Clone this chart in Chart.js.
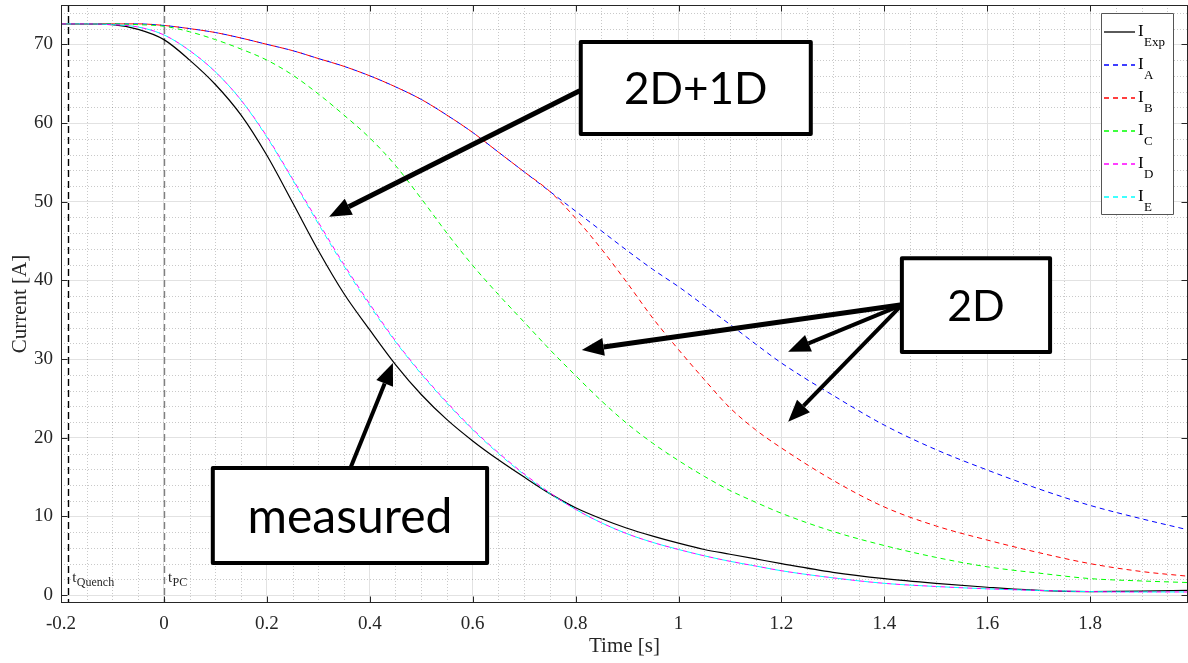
<!DOCTYPE html>
<html>
<head>
<meta charset="utf-8">
<script src="https://cdn.jsdelivr.net/npm/chart.js@4.4.1/dist/chart.umd.min.js"></script>
<style>
  html, body { margin: 0; padding: 0; background: #fff; overflow: hidden; }
</style>
</head>
<body>
<canvas id="currentChart" width="1188" height="663"></canvas>
<script>
// time axis shared by every trace [s]
const times = [-0.2, -0.15, -0.1, -0.05, 0, 0.05, 0.1, 0.15, 0.2, 0.25, 0.3, 0.35, 0.4, 0.45, 0.5, 0.55,
  0.6, 0.65, 0.7, 0.75, 0.8, 0.85, 0.9, 0.95, 1.0, 1.05, 1.1, 1.15, 1.2, 1.3, 1.4, 1.5, 1.6, 1.7, 1.8, 1.9, 1.99];

// currents [A]
const iExp = [72.6, 72.6, 72.5, 71.9, 70.6, 68.0, 64.9, 61.0, 55.9, 49.9, 43.8, 38.3, 33.7, 29.3, 25.5, 22.3,
  19.6, 17.2, 15.0, 12.9, 11.1, 9.7, 8.5, 7.5, 6.6, 5.8, 5.2, 4.6, 4.0, 2.9, 2.1, 1.5, 1.0, 0.6, 0.45, 0.5, 0.6];
const iA = [72.6, 72.6, 72.6, 72.6, 72.4, 72.0, 71.5, 70.8, 70.0, 69.2, 68.2, 67.2, 66.0, 64.6, 63.0, 61.0,
  58.8, 56.3, 53.8, 51.3, 48.8, 46.3, 43.8, 41.4, 39.2, 36.8, 34.4, 31.9, 29.5, 25.4, 21.6, 18.5, 15.9, 13.5, 11.4, 9.7, 8.3];
const iB = [72.6, 72.6, 72.6, 72.6, 72.4, 72.0, 71.5, 70.8, 70.0, 69.2, 68.2, 67.2, 66.0, 64.6, 63.0, 61.0,
  58.8, 56.3, 53.8, 51.3, 47.9, 44.0, 39.7, 35.2, 31.2, 27.4, 23.8, 21.0, 18.7, 14.6, 11.2, 8.8, 7.0, 5.4, 4.0, 3.0, 2.4];
const iC = [72.6, 72.6, 72.6, 72.5, 72.3, 71.6, 70.6, 69.4, 68.0, 66.1, 63.7, 61.0, 58.1, 54.6, 50.4, 46.0,
  41.9, 38.2, 34.7, 31.2, 27.9, 24.7, 21.8, 19.3, 17.1, 15.1, 13.3, 11.8, 10.4, 8.1, 6.3, 4.8, 3.6, 2.8, 2.1, 1.8, 1.6];
const iD = [72.6, 72.6, 72.5, 72.2, 71.2, 69.2, 66.5, 62.9, 58.3, 52.9, 47.4, 42.0, 37.0, 32.3, 28.2, 24.5,
  21.1, 18.1, 15.4, 13.0, 10.9, 9.2, 7.8, 6.7, 5.8, 5.0, 4.3, 3.7, 3.1, 2.2, 1.5, 1.1, 0.8, 0.6, 0.45, 0.4, 0.4];
const iE = [72.6, 72.6, 72.5, 72.2, 71.2, 69.2, 66.5, 62.9, 58.2, 52.8, 47.2, 41.8, 36.8, 32.2, 28.1, 24.4,
  21.0, 18.0, 15.3, 12.9, 10.9, 9.2, 7.8, 6.7, 5.8, 5.0, 4.3, 3.7, 3.1, 2.2, 1.5, 1.1, 0.8, 0.6, 0.45, 0.4, 0.4];

const xTicks = [-0.2, 0, 0.2, 0.4, 0.6, 0.8, 1, 1.2, 1.4, 1.6, 1.8];
const yTicks = [0, 10, 20, 30, 40, 50, 60, 70];

// event markers (quench detection, power converter switch-off)
const markerTimes = [-0.186, 0];
const markerNames = ['Quench', 'PC'];
const markerColors = ['#000000', '#808080'];

// text callouts and their arrows, in data coordinates
const callouts = [
  { text: '2D+1D', x0: 0.810, x1: 1.257, y0: 70.3, y1: 58.6, size: 44 },
  { text: '2D', x0: 1.434, x1: 1.722, y0: 42.8, y1: 30.9, size: 43 },
  { text: 'measured', x0: 0.095, x1: 0.628, y0: 16.15, y1: 4.08, size: 48 }
];
const arrows = [
  { from: [0.808, 64.1], to: [0.321, 48.1], w: 5 },
  { from: [1.434, 36.9], to: [0.812, 31.15], w: 5 },
  { from: [1.434, 36.9], to: [1.213, 30.94], w: 4 },
  { from: [1.434, 36.9], to: [1.213, 22.04], w: 4 },
  { from: [0.362, 16.1], to: [0.445, 29.5], w: 4 }
];

const legendItems = [
  { sub: 'Exp', color: '#000000', dash: [] },
  { sub: 'A', color: '#0000ff', dash: [5, 4] },
  { sub: 'B', color: '#ff0000', dash: [5, 4] },
  { sub: 'C', color: '#00ff00', dash: [5, 4] },
  { sub: 'D', color: '#ff00ff', dash: [5, 4] },
  { sub: 'E', color: '#00ffff', dash: [5, 4] }
];

const serif = "'Liberation Serif', 'Times New Roman', serif";
const axisColor = '#262626';

function trace(label, values, color, dash, offset, order) {
  return {
    label,
    data: times.map((t, i) => ({ x: t, y: values[i] })),
    borderColor: color,
    borderWidth: dash.length ? 1 : 1.2,
    borderDash: dash,
    borderDashOffset: offset,
    pointRadius: 0,
    fill: false,
    cubicInterpolationMode: 'monotone',
    order
  };
}

const decor = {
  id: 'decor',
  beforeDatasetsDraw(chart) {
    const { ctx, chartArea: a, scales: { x, y } } = chart;
    ctx.save();
    ctx.beginPath();
    ctx.rect(a.left, a.top, a.right - a.left, a.bottom - a.top);
    ctx.clip();

    // minor grid, dotted
    ctx.strokeStyle = 'rgba(38,38,38,0.25)';
    ctx.lineWidth = 1;
    ctx.setLineDash([1, 2]);
    for (let i = 1; i < 44; i++) {
      if (i % 4 === 0) continue;
      const px = Math.round(x.getPixelForValue(-0.2 + i * 0.05)) + 0.5;
      ctx.beginPath(); ctx.moveTo(px, a.top); ctx.lineTo(px, a.bottom); ctx.stroke();
    }
    for (let v = 2; v <= 74; v += 2) {
      if (v % 10 === 0) continue;
      const py = Math.round(y.getPixelForValue(v)) + 0.5;
      ctx.beginPath(); ctx.moveTo(a.left, py); ctx.lineTo(a.right, py); ctx.stroke();
    }

    // event markers
    ctx.setLineDash([7, 4]);
    ctx.lineWidth = 1.4;
    markerTimes.forEach((t, i) => {
      const px = Math.round(x.getPixelForValue(t)) + 0.5;
      ctx.strokeStyle = markerColors[i];
      ctx.beginPath(); ctx.moveTo(px, a.top); ctx.lineTo(px, a.bottom); ctx.stroke();
    });
    ctx.restore();
  },
  afterDatasetsDraw(chart) {
    const { ctx, chartArea: a, scales: { x, y } } = chart;
    ctx.save();

    // marker labels
    ctx.fillStyle = axisColor;
    ctx.textBaseline = 'alphabetic';
    markerTimes.forEach((t, i) => {
      const px = x.getPixelForValue(t) + 4;
      ctx.font = `15px ${serif}`;
      ctx.fillText('t', px, a.bottom - 21);
      const tw = ctx.measureText('t').width;
      ctx.font = `12px ${serif}`;
      ctx.fillText(markerNames[i], px + tw + 0.5, a.bottom - 17);
    });

    // box + inward ticks
    ctx.strokeStyle = axisColor;
    ctx.lineWidth = 1;
    ctx.setLineDash([]);
    const L = Math.round(a.left) + 0.5, R = Math.round(a.right) - 0.5;
    const T = Math.round(a.top) + 0.5, B = Math.round(a.bottom) - 0.5;
    ctx.strokeRect(L, T, R - L, B - T);
    ctx.beginPath();
    xTicks.forEach(v => {
      const px = Math.round(x.getPixelForValue(v)) + 0.5;
      ctx.moveTo(px, B); ctx.lineTo(px, B - 6);
      ctx.moveTo(px, T); ctx.lineTo(px, T + 6);
    });
    yTicks.forEach(v => {
      const py = Math.round(y.getPixelForValue(v)) + 0.5;
      ctx.moveTo(L, py); ctx.lineTo(L + 6, py);
      ctx.moveTo(R, py); ctx.lineTo(R - 6, py);
    });
    ctx.stroke();

    // arrows
    ctx.fillStyle = '#000';
    ctx.strokeStyle = '#000';
    ctx.lineCap = 'butt';
    arrows.forEach(ar => {
      const x0 = x.getPixelForValue(ar.from[0]), y0 = y.getPixelForValue(ar.from[1]);
      const x1 = x.getPixelForValue(ar.to[0]), y1 = y.getPixelForValue(ar.to[1]);
      const ang = Math.atan2(y1 - y0, x1 - x0);
      const head = 22, half = 9;
      const bx = x1 - head * Math.cos(ang), by = y1 - head * Math.sin(ang);
      ctx.lineWidth = ar.w;
      ctx.beginPath(); ctx.moveTo(x0, y0); ctx.lineTo(bx, by); ctx.stroke();
      ctx.beginPath();
      ctx.moveTo(x1, y1);
      ctx.lineTo(bx + half * Math.sin(ang), by - half * Math.cos(ang));
      ctx.lineTo(bx - half * Math.sin(ang), by + half * Math.cos(ang));
      ctx.closePath();
      ctx.fill();
    });

    // callout boxes
    callouts.forEach(c => {
      const l = x.getPixelForValue(c.x0), r = x.getPixelForValue(c.x1);
      const t = y.getPixelForValue(c.y0), b = y.getPixelForValue(c.y1);
      ctx.fillStyle = '#fff';
      ctx.fillRect(l, t, r - l, b - t);
      ctx.lineWidth = 4;
      ctx.lineJoin = 'round';
      ctx.strokeStyle = '#000';
      ctx.strokeRect(l, t, r - l, b - t);
      ctx.fillStyle = '#000';
      ctx.font = `${c.size}px Lato, 'Open Sans', sans-serif`;
      ctx.textAlign = 'center';
      ctx.textBaseline = 'middle';
      ctx.fillText(c.text, (l + r) / 2, (t + b) / 2 + 2);
    });

    // legend
    ctx.textAlign = 'left';
    ctx.textBaseline = 'alphabetic';
    const lx = a.right - 87, ly = a.top + 8;
    ctx.fillStyle = '#fff';
    ctx.fillRect(lx, ly, 72, 201);
    ctx.lineWidth = 1;
    ctx.strokeStyle = '#555';
    ctx.strokeRect(lx + 0.5, ly + 0.5, 72, 201);
    legendItems.forEach((it, i) => {
      const ry = ly + 19 + i * 33;
      ctx.strokeStyle = it.color;
      ctx.lineWidth = 1.3;
      ctx.setLineDash(it.dash);
      ctx.beginPath(); ctx.moveTo(lx + 3, ry); ctx.lineTo(lx + 34, ry); ctx.stroke();
      ctx.setLineDash([]);
      ctx.fillStyle = '#000';
      ctx.font = `17px ${serif}`;
      ctx.fillText('I', lx + 37, ry + 4);
      ctx.font = `13px ${serif}`;
      ctx.fillText(it.sub, lx + 43, ry + 13.5);
    });
    ctx.restore();
  }
};

new Chart(document.getElementById('currentChart'), {
  type: 'line',
  data: {
    datasets: [
      trace('I_Exp', iExp, '#000000', [], 0, 6),
      trace('I_A', iA, '#0000ff', [5, 4], 0, 5),
      trace('I_B', iB, '#ff0000', [5, 4], 4, 4),
      trace('I_C', iC, '#00ff00', [5, 4], 0, 3),
      trace('I_D', iD, '#ff00ff', [5, 4], 0, 2),
      trace('I_E', iE, '#00ffff', [5, 4], 4, 1)
    ]
  },
  options: {
    responsive: false,
    animation: false,
    layout: { padding: { top: 5, right: 0, bottom: 0, left: 0 } },
    plugins: {
      legend: { display: false },
      tooltip: { enabled: false }
    },
    scales: {
      x: {
        type: 'linear',
        min: -0.2,
        max: 1.99,
        afterBuildTicks: s => { s.ticks = xTicks.map(v => ({ value: v })); },
        afterFit: s => { s.height = 60; s.paddingLeft = 0; s.paddingRight = 0; },
        grid: { color: '#e2e2e2', drawTicks: false },
        border: { display: false },
        ticks: {
          autoSkip: false,
          maxRotation: 0,
          padding: 10,
          color: axisColor,
          font: { family: serif, size: 19 },
          callback: v => String(Math.round(v * 10) / 10)
        },
        title: {
          display: true,
          text: 'Time [s]',
          color: axisColor,
          font: { family: serif, size: 21 },
          padding: 4
        }
      },
      y: {
        min: -1,
        max: 75,
        afterBuildTicks: s => { s.ticks = yTicks.map(v => ({ value: v })); },
        afterFit: s => { s.width = 61; s.paddingTop = 0; s.paddingBottom = 0; },
        grid: { color: '#e2e2e2', drawTicks: false },
        border: { display: false },
        ticks: {
          padding: 8,
          color: axisColor,
          font: { family: serif, size: 19 }
        },
        title: {
          display: true,
          text: 'Current [A]',
          color: axisColor,
          font: { family: serif, size: 21 },
          padding: 8
        }
      }
    }
  },
  plugins: [decor]
});
</script>
</body>
</html>
